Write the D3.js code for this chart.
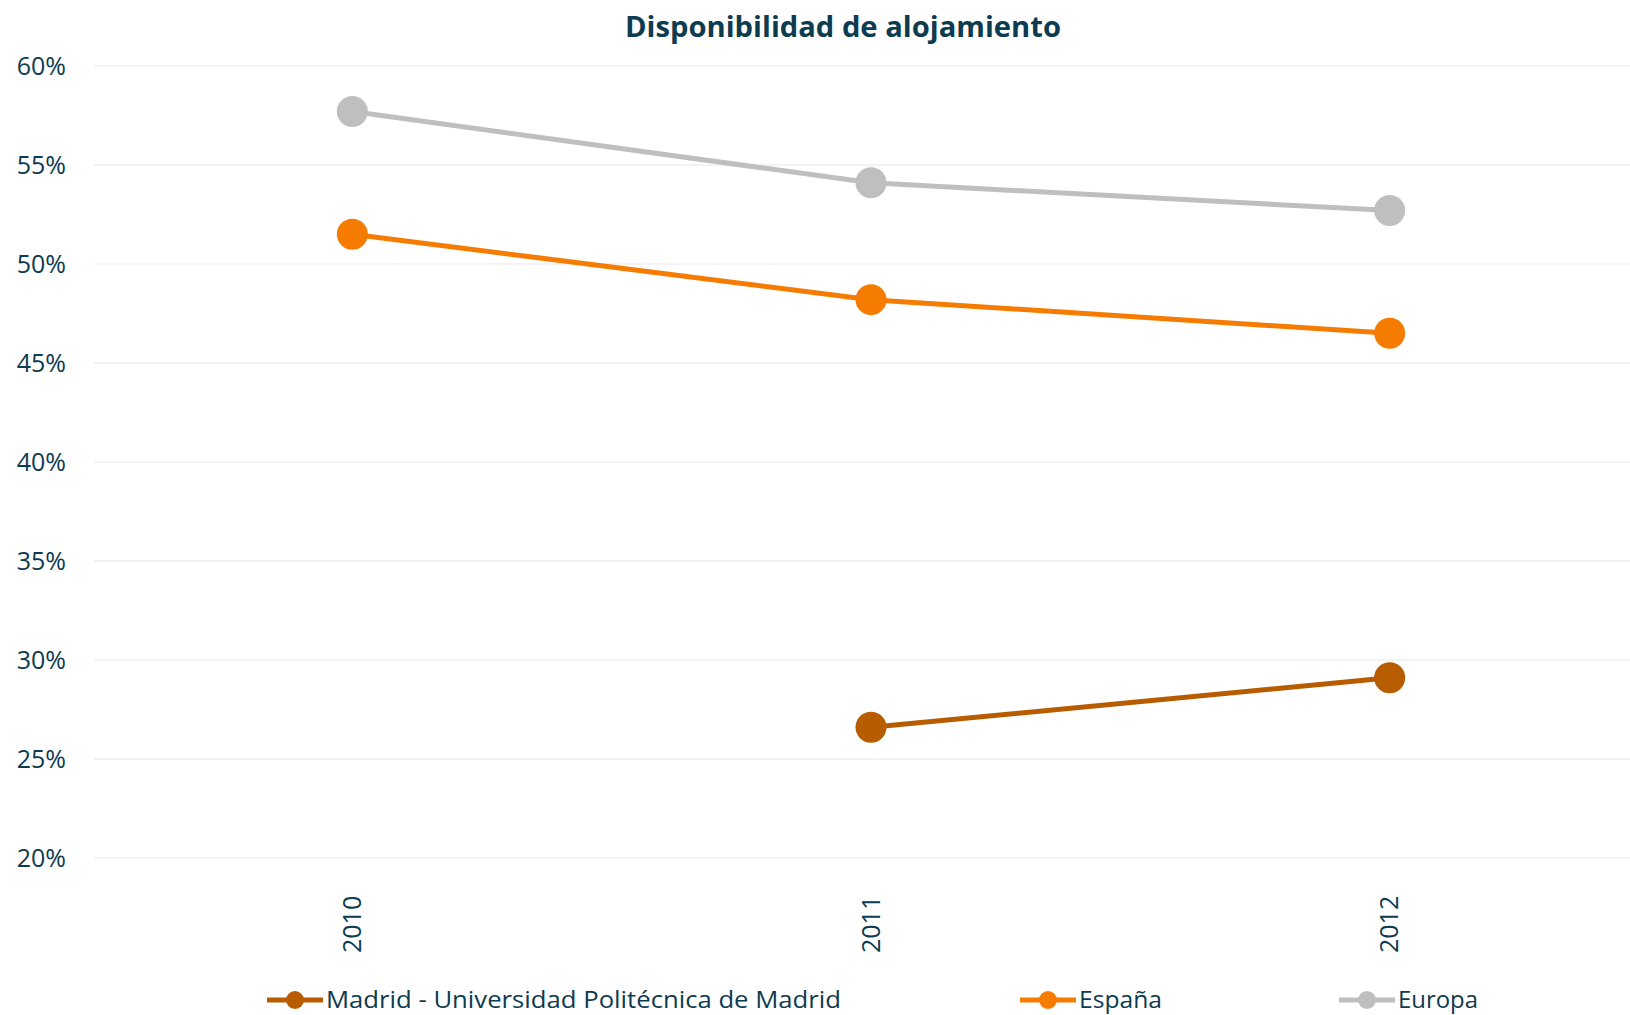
<!DOCTYPE html>
<html>
<head>
<meta charset="utf-8">
<script src="https://cdn.jsdelivr.net/npm/d3@7"></script>
<style>
  body { margin: 0; background: #fff; }
  svg { display: block; font-family: "Open Sans", sans-serif; }
</style>
</head>
<body>
<svg id="chart"></svg>
<script>
var years = ["2010", "2011", "2012"];
var madrid = [null, 0.266, 0.291];
var espana = [0.515, 0.482, 0.465];
var europa = [0.577, 0.541, 0.527];
var seriesNames = ["Madrid - Universidad Politécnica de Madrid", "España", "Europa"];
var seriesColors = ["#b85c00", "#f57c00", "#bfbfbf"];
var yTicks = [0.2, 0.25, 0.3, 0.35, 0.4, 0.45, 0.5, 0.55, 0.6];

var width = 1630, height = 1015;
var textColor = "#0d3b4f";

var svg = d3.select("#chart").attr("width", width).attr("height", height);

var x = d3.scaleBand().domain(years).range([93, 1649]);
var y = d3.scaleLinear().domain([0.2, 0.6]).range([858, 66]);

// gridlines
svg.append("g").selectAll("line")
  .data(yTicks)
  .enter()
  .append("line")
  .attr("x1", 94).attr("x2", width)
  .attr("y1", function(d){ return y(d); })
  .attr("y2", function(d){ return y(d); })
  .attr("stroke", "#efefef")
  .attr("stroke-width", 1.5);

// y axis
var yAxis = d3.axisLeft(y).tickValues(yTicks).tickFormat(d3.format(".0%")).tickSize(0).tickPadding(0);
var yg = svg.append("g").attr("transform", "translate(66,0)").call(yAxis);
yg.select(".domain").remove();
yg.selectAll("text")
  .attr("font-family", "Open Sans, sans-serif")
  .attr("font-size", 25)
  .attr("fill", textColor)
  .attr("dy", "0.32em");

// x axis labels (rotated)
var xAxis = d3.axisBottom(x).tickSize(0).tickPadding(0);
var xg = svg.append("g").attr("transform", "translate(0,953)").call(xAxis);
xg.select(".domain").remove();
xg.selectAll("text")
  .attr("font-family", "Open Sans, sans-serif")
  .attr("font-size", 25)
  .attr("fill", textColor)
  .attr("transform", "rotate(-90)")
  .attr("text-anchor", "start")
  .attr("x", 0)
  .attr("y", 0)
  .attr("dy", "0.35em");

// title
svg.append("text")
  .attr("x", 843).attr("y", 37)
  .attr("text-anchor", "middle")
  .attr("font-size", 29)
  .attr("font-weight", "bold")
  .attr("fill", textColor)
  .attr("textLength", 436)
  .attr("lengthAdjust", "spacingAndGlyphs")
  .text("Disponibilidad de alojamiento");

var allSeries = [madrid, espana, europa];

var line = d3.line()
  .defined(function(d){ return d.v != null; })
  .x(function(d){ return x(d.year) + x.bandwidth() / 2; })
  .y(function(d){ return y(d.v); });

allSeries.forEach(function(vals, si){
  var pts = vals.map(function(v, i){ return {year: years[i], v: v}; });
  var g = svg.append("g");
  g.append("path")
    .datum(pts)
    .attr("d", line)
    .attr("fill", "none")
    .attr("stroke", seriesColors[si])
    .attr("stroke-width", 5);
  g.selectAll("circle")
    .data(pts.filter(function(d){ return d.v != null; }))
    .enter()
    .append("circle")
    .attr("cx", function(d){ return x(d.year) + x.bandwidth() / 2; })
    .attr("cy", function(d){ return y(d.v); })
    .attr("r", 15.5)
    .attr("fill", seriesColors[si]);
});

// legend
var legendX = [267, 1020, 1339];
var legendW = [515, 83, 80];
var legend = svg.append("g");
seriesNames.forEach(function(name, i){
  var lg = legend.append("g").attr("transform", "translate(" + legendX[i] + ",1000)");
  lg.append("line").attr("x1", 0).attr("x2", 56).attr("y1", 0).attr("y2", 0)
    .attr("stroke", seriesColors[i]).attr("stroke-width", 5);
  lg.append("circle").attr("cx", 28).attr("cy", 0).attr("r", 9).attr("fill", seriesColors[i]);
  lg.append("text")
    .attr("x", 59).attr("y", 0).attr("dy", "0.35em")
    .attr("font-size", 24)
    .attr("fill", textColor)
    .attr("textLength", legendW[i])
    .attr("lengthAdjust", "spacingAndGlyphs")
    .text(name);
});
</script>
</body>
</html>
